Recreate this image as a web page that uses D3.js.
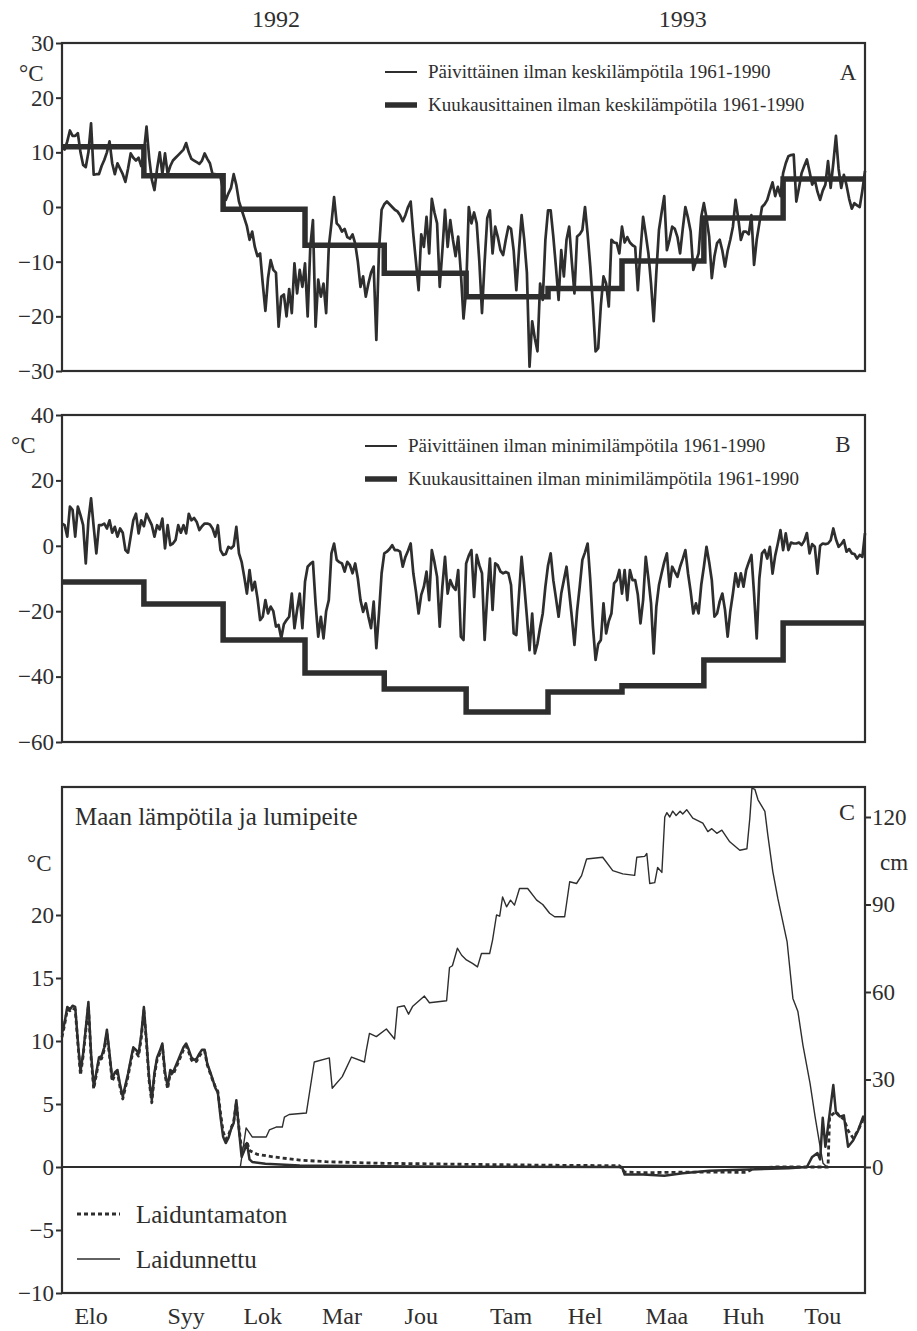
<!DOCTYPE html>
<html><head><meta charset="utf-8">
<script src="https://cdn.jsdelivr.net/npm/d3@7"></script>
<style>
body{margin:0;background:#fff}
svg{display:block}
text{font-family:"Liberation Serif","Times New Roman",serif;fill:#2e2e2e}
</style>
</head><body>
<svg id="c" width="917" height="1331"></svg>
<script>
// ---------------- DATA ----------------
const startDate = "1992-08-01";
const endDate = "1993-06-01";
const monthStarts = ["1992-08-01","1992-09-01","1992-10-01","1992-11-01","1992-12-01","1993-01-01","1993-02-01","1993-03-01","1993-04-01","1993-05-01","1993-06-01"];
const monthLabels = ["Elo","Syy","Lok","Mar","Jou","Tam","Hel","Maa","Huh","Tou"];
const monthLabelDates = ["1992-08-12","1992-09-17","1992-10-16","1992-11-15","1992-12-15","1993-01-18","1993-02-15","1993-03-18","1993-04-16","1993-05-16"];
const yearLabels = ["1992","1993"];
const yearLabelDates = ["1992-10-21","1993-03-24"];

// Panel A: monthly mean 1961-1990 and daily mean (day 0 = 1 Aug 1992)
const monthlyMean = [11, 5.7, -0.4, -7.0, -12.1, -16.4, -14.9, -9.9, -2.0, 5.1];
const dailyMean = [
11,10.5,12,14,13,13,13.5,10,7.7,7.3,
10,15.3,5.9,6,6,7.5,8.6,10,12,8,
6,8,7,6,4.6,7,9.8,9,8.5,9,
7.5,10,14.7,9,5,3.1,7,10,6,9.8,
6,7.5,8.5,9,9.5,10,10.5,11.7,10,8.8,
8.5,8.2,7.9,8.5,9.8,8.8,8,6,6,5.8,
5.5,3,1.3,2.5,3.5,6,4,1,-0.5,-2,
-3.5,-6,-4.5,-7.3,-9,-8.5,-14,-19,-13,-9.7,
-11.5,-12,-21.9,-16.4,-16,-20,-15,-19.4,-10.3,-15.8,
-11.5,-14.6,-10.3,-20,-7.3,-2.4,-21.9,-13.3,-16.4,-14,
-19.4,-7.3,-3,1.8,-3,-3.5,-4.5,-4,-5.5,-5.8,
-5,-6.7,-10,-14.6,-12.7,-16.4,-14,-12,-10.9,-24.3,
-7.9,-0.5,0.5,1,0.5,0,-0.5,-0.8,-1.5,-2.6,
-1.5,0,1,-5,-10,-15.2,-5,-7.3,-1.8,-8.5,
1.5,-1,-3,-14.6,-8,-0.5,-7.3,-2.4,-6,-9,
-5.4,-12,-20.4,-15.2,0,-3,-1,-3,-10,-19.4,
-10,-2,-0.6,-8.5,-3.6,-5.5,-7.9,-8.8,-6,-3.6,
-4,-8,-15.2,-8,-1.5,-6,-12,-29.2,-20.9,-24,
-26.4,-14,-17,-6,-0.6,-0.6,-5.4,-11,-17,-7.9,
-12.7,-6,-3.6,-10,-15.8,-5.4,-5,-4.2,0,-5,
-10.9,-18,-26.4,-25.8,-18,-12.7,-14,-18.2,-6,-6.5,
-6.6,-8.5,-3.6,-6.5,-5.5,-6.5,-7,-7.3,-15.2,-8,
-1.8,-5,-8.5,-14,-20.9,-12,-4.2,-1,2,-7.9,
-6,-3.6,-4,-5.5,-8.5,-4,0,-2,-4.5,-11.5,
-10,-8.5,-1.8,0.7,-2,-5.4,-13,-9,-6.6,-6,
-8,-10.9,-8,-6,-3.6,1.3,-2,-6,-4.5,-4.5,
-5,-1.5,-10.6,-6,-3,0,0.5,1.3,3,4.5,
2,3.7,2,6.2,8,9.3,9.5,9.6,1,3.5,
6.2,7.5,8.7,6.5,4.1,5,2.8,1.3,3,4.1,
8.4,3.5,8,13,7,3.5,5.9,4,1.5,-0.3,
0.7,0.3,0,3,6.6];

// Panel B: monthly minimum 1961-1990 and daily minimum
const monthlyMin = [-11.1, -17.8, -28.8, -38.9, -43.8, -50.8, -44.7, -42.8, -34.9, -23.6];
const dailyMin = [
6.8,6.3,2.8,12,11,2.8,12,9.4,6.3,-5.4,
7.8,14.5,5.8,-2.3,6.3,6.3,6.8,5.3,7.8,4,
5.8,2.8,5.3,4,-1.3,-2.1,2.8,7.8,9.8,3.8,
7.8,6,9.8,8,6.3,2.8,6.3,5,8.3,-0.8,
6.3,0.2,0.7,1.8,6.3,4,6.3,3.8,9.8,7.8,
8.5,7.3,4.8,6,6.8,6.8,6.5,5.3,2.8,6.3,
-1.3,-2.8,-2.5,-0.3,-0.8,0,5.8,-2.3,-4.9,-9.5,
-14.6,-7.4,-13.6,-11,-16,-22.7,-21.7,-16.6,-20.7,-18.6,
-20,-24.7,-24.2,-28.3,-24,-22.7,-21.7,-14.6,-25.2,-19.6,
-14.6,-25.2,-11,-6.4,-5.5,-4.9,-17.6,-27.8,-21.7,-28.3,
-20,-16.6,-2.3,0.7,-4.3,-5,-5.4,-7.9,-4.9,-5.9,
-8.4,-5.4,-10,-16.6,-20.2,-17.6,-21.7,-25.2,-17.1,-31.3,
-20.7,-8.4,-2.3,-1.8,-1,0.2,-1.3,-1.3,-1.8,-6.4,
-3.4,-1.5,0.7,-8.4,-14,-20.7,-15,-12.5,-7.9,-16.6,
-1.3,-5,-9.5,-24.7,-12.5,-3.4,-14.6,-10.5,-12.5,-13.5,
-7.4,-27.8,-28.8,-5.4,-3,-1.3,-15.6,-2.8,-6,-8.4,
-28.8,-15,-3.9,-19.6,-5.4,-6,-7.9,-8.4,-8,-8.4,
-12,-26.8,-27.3,-15,-3.4,-12,-21.7,-31.9,-20.7,-32.9,
-29.9,-25,-20.7,-12.5,-6,-2.3,-10.5,-16,-21.7,-14.6,
-10.5,-6.4,-14,-21.7,-30.3,-20,-12.5,-4.3,-2,0.7,
-10.5,-24.7,-34.9,-30,-28.8,-17.6,-26.8,-23,-20.7,-11.5,
-10.5,-7.4,-14.6,-7.4,-16.6,-7.4,-10.5,-10.5,-15,-23.7,
-16.6,-3.4,-10,-17.6,-32.9,-18.6,-12,-8.4,-5,-2.3,
-12.5,-6.4,-8,-9.5,-6.4,-4,-1.3,-8.4,-14,-20.7,
-17.6,-20.7,-12,-6.4,-0.3,-5,-10.5,-21.7,-20.7,-17,
-14.6,-19.6,-27.8,-20,-14.6,-8.4,-12.5,-8.4,-12.5,-7.4,
-5,-2.8,-14.6,-28.3,-10,-2.3,-1.3,-3.9,-0.3,-8.5,
-3,0.7,4.8,-1.3,3.8,-1.3,1,0.7,0.7,1,
0.2,1.5,3.9,-2.3,0.5,-0.3,-8.5,0,0.7,0.5,
0.7,1.7,5.3,2,-0.3,0.5,1.7,-1.8,-1,-2.3,
-2.5,-3.9,-2.8,-3.4,3.9];

// Panel C: soil temperature [day, °C] and snow depth [day, cm]
const soilGrazed = [[0,10.6],[1,11.5],[2,12.7],[3,12.5],[4,12.8],[5,12.7],[6,10],[7,7.6],[8,9],[9,11],[10,13.1],[11,9],[12,6.4],[13,7.5],[14,8.7],[15,8.8],[16,9.5],[17,10.9],[18,9],[19,7],[20,7.5],[21,7.7],[22,6.5],[23,5.6],[24,6.5],[25,7.4],[26,8.5],[27,9.5],[28,9.3],[29,9],[30,10.5],[31,12.7],[32,10],[33,7],[34,5.3],[35,7.5],[36,8.7],[37,9.2],[38,9.8],[39,7.5],[40,6.4],[41,7.7],[42,7.5],[43,8],[44,8.5],[45,9],[46,9.5],[47,9.8],[48,9.3],[49,8.7],[50,8.5],[51,8.6],[52,9],[53,9.3],[54,9.3],[55,8.2],[56,7.6],[57,7],[58,6.3],[59,5.9],[60,4],[61,2.4],[62,1.9],[63,2.3],[64,3],[65,3.5],[66,5.3],[67,2.9],[68,0.8],[69,1.3],[70,1.9],[71,0.6],[72,0.4],[77,0.25],[90,0.12],[120,0.05],[150,0.02],[212,0],[213,-0.6],[220,-0.6],[228,-0.7],[235,-0.5],[245,-0.3],[260,-0.2],[275,-0.1],[282,0],[284,0.8],[286,1.1],[287,0.6],[288,3.9],[289,1.6],[290,3.2],[292,6.5],[293,4.3],[294.5,4],[296,4.1],[297.6,1.6],[299.5,2.1],[301.4,2.9],[303.3,4],[304,3.6]];
const soilUngrazed = [[0,10.3],[1,11.3],[2,12.5],[3,12.4],[4,12.6],[5,12.5],[6,9.8],[7,7.3],[8,8.8],[9,10.8],[10,12.8],[11,8.7],[12,6.2],[13,7.3],[14,8.5],[15,8.6],[16,9.3],[17,10.6],[18,8.8],[19,6.8],[20,7.3],[21,7.5],[22,6.3],[23,5.4],[24,6.3],[25,7.2],[26,8.3],[27,9.3],[28,9.1],[29,8.8],[30,10.2],[31,12.4],[32,9.8],[33,6.8],[34,5.1],[35,7.3],[36,8.5],[37,9],[38,9.6],[39,7.3],[40,6.2],[41,7.5],[42,7.3],[43,7.8],[44,8.3],[45,8.8],[46,9.3],[47,9.6],[48,9.1],[49,8.5],[50,8.3],[51,8.4],[52,8.8],[53,9.1],[54,9.2],[55,8.1],[56,7.5],[57,6.9],[58,6.4],[59,6],[60,4.3],[61,2.8],[62,2.2],[63,2.5],[64,3.1],[65,3.6],[66,5.1],[67,3.1],[68,1.4],[69,1.5],[70,2],[71,1.3],[74,1],[80,0.8],[90,0.55],[100,0.42],[120,0.3],[150,0.22],[180,0.15],[211,0.1],[213,-0.4],[220,-0.45],[240,-0.4],[259,-0.42],[262,-0.1],[270,0],[290,0],[290.6,4],[293,4.4],[294.5,4],[296,3.8],[297.6,2.9],[299.5,2.3],[301.4,2.9],[303.3,3.8],[304,3.5]];
const snowDepth = [[0,0],[67.5,0],[69.7,13.4],[72,10.3],[77.3,10.3],[78.5,12.7],[81.1,13.7],[83.4,13.7],[84.2,17.1],[86,18],[92.5,18.5],[95.5,36],[101.2,37.4],[102.3,27],[106.1,31],[109.6,37.7],[114.5,36],[115.2,40],[116.4,45.8],[119,44.7],[122.8,47.3],[125.9,43.9],[127,54.8],[129.6,55.3],[131.2,52.4],[132.7,55],[137.2,58.6],[139.1,56.3],[145.6,57],[146.7,68.4],[147.8,69],[149.7,75],[151.3,72.6],[153.1,71],[155.4,69.8],[157.3,68.6],[158.8,73.2],[161.9,73.2],[163,77.8],[164.5,86.4],[165.7,86],[166.8,92.6],[168.3,89.2],[169.8,91.5],[171.3,89.8],[173.2,95.5],[176.3,95.5],[179.7,91.5],[182,90],[184.6,87],[186.5,85.8],[190.3,85.8],[192.2,97.8],[194.8,97.2],[196.7,99.9],[198.6,105.6],[204.7,106.2],[208.5,101.6],[212.3,100.5],[216.8,100],[217.6,106.2],[220.6,106.5],[221.4,107.5],[222.5,97.2],[224.4,97.5],[225.5,102.7],[227.1,101],[228.2,120],[229,121.5],[230.1,120],[231.2,122],[232.5,120.5],[234,122],[235,121],[236.5,122.5],[238.8,119.6],[242.6,117.9],[244.5,115],[246,116],[247.9,114.4],[249.8,115.5],[252.8,111.5],[256.6,108.6],[259.3,109.1],[260.4,119.6],[261.2,129.9],[262.3,129.5],[263.5,125.9],[266.1,121.9],[267.2,113.9],[269.1,101.3],[271,92.1],[274.5,77.3],[276.7,57.8],[278.6,53.3],[280.5,41.8],[283.2,28.7],[285.1,17.3],[287,7],[288.1,1.3],[289.6,0],[304,0]];

const ticksA = [30,20,10,0,-10,-20,-30];
const ticksB = [40,20,0,-20,-40,-60];
const ticksC = [20,15,10,5,0,-5,-10];
const ticksSnow = [0,30,60,90,120];

const legendA = ["Päivittäinen ilman keskilämpötila 1961-1990","Kuukausittainen ilman keskilämpötila 1961-1990"];
const legendB = ["Päivittäinen ilman minimilämpötila 1961-1990","Kuukausittainen ilman minimilämpötila 1961-1990"];
const legendC = ["Laiduntamaton","Laidunnettu"];
const titleC = "Maan lämpötila ja lumipeite";

// ---------------- DRAW ----------------
const ink = "#2e2e2e";
const svg = d3.select("#c");
const parse = d3.utcParse("%Y-%m-%d");
const t0 = parse(startDate);
const dayDate = d => new Date(t0.getTime() + d * 864e5);
const x = d3.scaleUtc().domain([t0, parse(endDate)]).range([62, 865]);

function frame(y, top, bottom) {
  svg.append("rect").attr("x", x.range()[0]).attr("y", top)
    .attr("width", x.range()[1] - x.range()[0]).attr("height", bottom - top)
    .attr("fill", "none").attr("stroke", ink).attr("stroke-width", 2.2);
}
function leftAxis(y, ticks, size) {
  const g = svg.append("g").attr("transform", `translate(${x.range()[0]},0)`)
    .call(d3.axisLeft(y).tickValues(ticks).tickSize(6).tickPadding(2).tickFormat(d3.format("d")));
  g.select(".domain").remove();
  g.selectAll("line").attr("stroke", ink).attr("stroke-width", 2);
  g.selectAll("text").attr("font-size", size).attr("fill", ink)
    .style("font-family", '"Liberation Serif",serif');
  return g;
}
function stepLine(y, vals, w) {
  const pts = vals.map((v, i) => [parse(monthStarts[i]), v]);
  pts.push([parse(monthStarts[monthStarts.length - 1]), vals[vals.length - 1]]);
  svg.append("path").datum(pts)
    .attr("d", d3.line().x(d => x(d[0])).y(d => y(d[1])).curve(d3.curveStepAfter))
    .attr("fill", "none").attr("stroke", ink).attr("stroke-width", w).attr("stroke-linejoin", "miter");
}
function dailyLine(y, vals, w) {
  svg.append("path").datum(vals)
    .attr("d", d3.line().x((d, i) => x(dayDate(i))).y(d => y(d)))
    .attr("fill", "none").attr("stroke", ink).attr("stroke-width", w).attr("stroke-linejoin", "round");
}
function pairLine(y, pts, w, dash) {
  const p = svg.append("path").datum(pts)
    .attr("d", d3.line().x(d => x(dayDate(d[0]))).y(d => y(d[1])))
    .attr("fill", "none").attr("stroke", ink).attr("stroke-width", w).attr("stroke-linejoin", "round");
  if (dash) p.attr("stroke-dasharray", dash);
}
function label(txt, px, py, size, anchor) {
  svg.append("text").attr("x", px).attr("y", py).attr("font-size", size)
    .attr("text-anchor", anchor || "start").text(txt);
}

// Year labels
yearLabels.forEach((t, i) => label(t, x(parse(yearLabelDates[i])), 27, 24, "middle"));

// ---- Panel A ----
const yA = d3.scaleLinear().domain([-30, 30]).range([371, 43]);
dailyLine(yA, dailyMean, 2.7);
stepLine(yA, monthlyMean, 5.5);
frame(yA, 43, 371);
leftAxis(yA, ticksA, 23);
label("°C", 19, 81, 23);
svg.append("line").attr("x1", 385).attr("x2", 417).attr("y1", 72).attr("y2", 72).attr("stroke", ink).attr("stroke-width", 2);
svg.append("line").attr("x1", 385).attr("x2", 417).attr("y1", 105).attr("y2", 105).attr("stroke", ink).attr("stroke-width", 5.5);
label(legendA[0], 428, 78, 19);
label(legendA[1], 428, 111, 19);
label("A", 848, 80, 23, "middle");

// ---- Panel B ----
const yB = d3.scaleLinear().domain([-60, 40]).range([742, 415]);
dailyLine(yB, dailyMin, 2.7);
stepLine(yB, monthlyMin, 5.5);
frame(yB, 415, 742);
leftAxis(yB, ticksB, 23);
label("°C", 11, 453, 23);
svg.append("line").attr("x1", 365).attr("x2", 397).attr("y1", 446).attr("y2", 446).attr("stroke", ink).attr("stroke-width", 2);
svg.append("line").attr("x1", 365).attr("x2", 397).attr("y1", 479).attr("y2", 479).attr("stroke", ink).attr("stroke-width", 5.5);
label(legendB[0], 408, 452, 19);
label(legendB[1], 408, 485, 19);
label("B", 843, 452, 23, "middle");

// ---- Panel C ----
const yC = d3.scaleLinear().domain([-10, 30]).range([1293, 789]);
const ySnow = d3.scaleLinear().domain([0, 120]).range([1167, 817]);
svg.append("line").attr("x1", x.range()[0]).attr("x2", x.range()[1])
  .attr("y1", yC(0)).attr("y2", yC(0)).attr("stroke", ink).attr("stroke-width", 2);
pairLine(ySnow, snowDepth, 1.4);
pairLine(yC, soilGrazed, 2.5);
pairLine(yC, soilUngrazed, 2.8, "4,3");
frame(yC, 787, 1293);
leftAxis(yC, ticksC, 23);
const gr = svg.append("g").attr("transform", `translate(${x.range()[1]},0)`)
  .call(d3.axisRight(ySnow).tickValues(ticksSnow).tickSize(6).tickPadding(1).tickFormat(d3.format("d")));
gr.select(".domain").remove();
gr.selectAll("line").attr("stroke", ink).attr("stroke-width", 2);
gr.selectAll("text").attr("font-size", 23).attr("fill", ink).style("font-family", '"Liberation Serif",serif');
label("°C", 27, 871, 23);
label("cm", 880, 870, 23);
label("C", 847, 820, 24, "middle");
label(titleC, 75, 825, 25);
svg.append("line").attr("x1", 77).attr("x2", 120).attr("y1", 1214).attr("y2", 1214)
  .attr("stroke", ink).attr("stroke-width", 2.8).attr("stroke-dasharray", "4,3");
svg.append("line").attr("x1", 77).attr("x2", 120).attr("y1", 1259).attr("y2", 1259)
  .attr("stroke", ink).attr("stroke-width", 1.6);
label(legendC[0], 136, 1223, 25);
label(legendC[1], 136, 1268, 25);

// Month labels
monthLabels.forEach((m, i) => label(m, x(parse(monthLabelDates[i])), 1324, 24, "middle"));
</script>
</body></html>
